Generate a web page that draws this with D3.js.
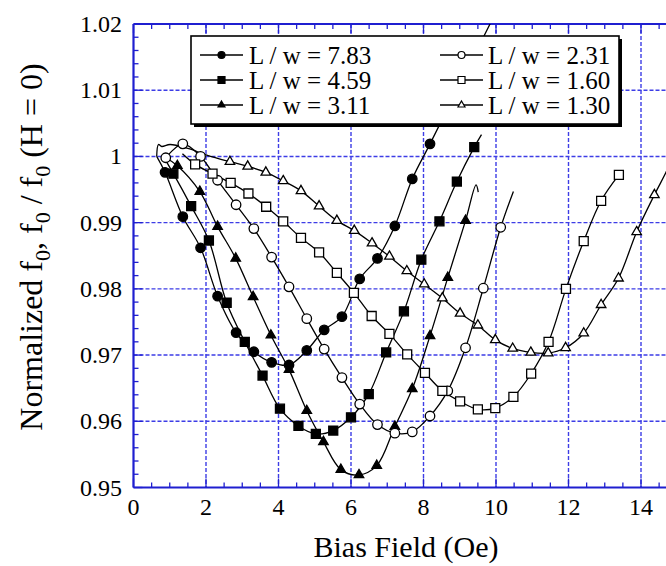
<!DOCTYPE html>
<html>
<head>
<meta charset="utf-8">
<script src="https://cdn.jsdelivr.net/npm/d3@7"></script>
<style>
  html, body { margin: 0; padding: 0; background: #fff; }
  svg { display: block; }
</style>
</head>
<body>
<svg id="chart" width="666" height="566"></svg>
<script>
// ---- Measured resonance shift vs. bias field, one series per aspect ratio L/w ----
const seriesNames = ["L / w = 7.83", "L / w = 4.59", "L / w = 3.11",
                     "L / w = 2.31", "L / w = 1.60", "L / w = 1.30"];

// marker points [bias field (Oe), normalized f0]
const lw783 = [[0.87,0.9976],[1.36,0.9909],[1.85,0.9862],[2.32,0.9789],[2.83,0.9734],[3.32,0.9705],
  [3.81,0.9689],[4.29,0.9685],[4.78,0.9707],[5.26,0.9738],[5.75,0.9758],[6.24,0.9815],[6.73,0.9846],
  [7.21,0.9895],[7.69,0.9966],[8.18,1.0019]];
const lw459 = [[1.10,0.9974],[1.59,0.9925],[2.08,0.9873],[2.57,0.9779],[3.07,0.9720],[3.56,0.9669],
  [4.04,0.9619],[4.55,0.9593],[5.03,0.9581],[5.51,0.9586],[6.00,0.9606],[6.49,0.9641],[6.97,0.9704],
  [7.46,0.9766],[7.94,0.9844],[8.44,0.9902],[8.92,0.9962],[9.40,1.0014]];
const lw311 = [[1.21,0.9986],[1.83,0.9947],[2.32,0.9894],[2.82,0.9846],[3.30,0.9788],[3.79,0.9730],
  [4.29,0.9678],[4.78,0.9616],[5.24,0.9569],[5.72,0.9527],[6.22,0.9519],[6.71,0.9533],[7.21,0.9592],
  [7.69,0.9649],[8.18,0.9729],[8.67,0.9817],[9.16,0.9903]];
const lw231 = [[0.89,0.9998],[1.36,1.0019],[1.85,1.0000],[2.32,0.9964],[2.83,0.9927],[3.32,0.9891],
  [3.81,0.9848],[4.29,0.9803],[4.78,0.9755],[5.26,0.9709],[5.75,0.9666],[6.24,0.9626],[6.73,0.9595],
  [7.21,0.9582],[7.69,0.9584],[8.18,0.9608],[8.67,0.9646],[9.16,0.9711],[9.65,0.9801],[10.13,0.9893]];
const lw160 = [[1.70,0.9988],[2.18,0.9974],[2.68,0.9960],[3.17,0.9944],[3.66,0.9924],[4.13,0.9902],
  [4.62,0.9877],[5.12,0.9855],[5.61,0.9824],[6.08,0.9794],[6.57,0.9759],[7.06,0.9732],[7.55,0.9701],
  [8.04,0.9673],[8.52,0.9646],[9.01,0.9630],[9.50,0.9618],[9.98,0.9620],[10.48,0.9637],[10.97,0.9672],
  [11.45,0.9720],[11.93,0.9800],[12.42,0.9872],[12.90,0.9933],[13.39,0.9972]];
const lw130 = [[2.66,0.9992],[3.15,0.9985],[3.65,0.9976],[4.13,0.9963],[4.62,0.9948],[5.12,0.9925],
  [5.61,0.9903],[6.09,0.9888],[6.58,0.9869],[7.06,0.9849],[7.54,0.9827],[8.02,0.9807],[8.52,0.9786],
  [9.01,0.9763],[9.50,0.9745],[9.98,0.9723],[10.46,0.9710],[10.96,0.9704],[11.44,0.9703],[11.92,0.9711],
  [12.42,0.9733],[12.90,0.9776],[13.38,0.9816],[13.88,0.9886],[14.37,0.9942]];

// trace points recorded beyond the marked points (start / end of each sweep)
const lw783Head = [[0.64,1.0000]];
const lw783Tail = [[9.88,1.0205]];
const lw459Head = [[0.90,0.9993]];
const lw459Tail = [[9.60,1.0033]];
const lw311Head = [[0.89,0.9998]];
const lw311Tail = [[9.45,0.9957],[9.51,0.9946]];
const lw231Head = [];
const lw231Tail = [[10.48,0.9947]];
const lw160Head = [[1.35,1.0004]];
const lw160Tail = [];
const lw130Head = [[0.64,1.0000],[0.69,1.0018],[0.78,1.0015],[1.01,1.0018],[1.50,1.0012],[2.02,1.0002]];
const lw130Tail = [[14.69,0.9976],[15.0,1.0012]];

const xTicks = [0, 2, 4, 6, 8, 10, 12, 14];
const yTicks = [0.95, 0.96, 0.97, 0.98, 0.99, 1.00, 1.01, 1.02];
const yTickLabels = ["0.95", "0.96", "0.97", "0.98", "0.99", "1", "1.01", "1.02"];

// ---- layout ----
const svg = d3.select("#chart");
const FONT = "'Liberation Serif','Times New Roman',Times,serif";
const pL = 133.5, pT = 24, pB = 487.5, pR = 677.25;
const x = d3.scaleLinear().domain([0, 15]).range([pL, pR]);
const y = d3.scaleLinear().domain([0.95, 1.02]).range([pB, pT]);
const AXIS = "#1f1fd0", GRID = "#3d3de6";

// grid
const g = svg.append("g");
g.selectAll(".gx").data(xTicks.filter(t => t > 0)).join("line")
  .attr("x1", d => x(d)).attr("x2", d => x(d)).attr("y1", pT).attr("y2", pB)
  .attr("stroke", GRID).attr("stroke-width", 1.4).attr("stroke-dasharray", "4,2");
g.selectAll(".gy").data(yTicks.filter(t => t > 0.95 && t < 1.02)).join("line")
  .attr("x1", pL).attr("x2", pR).attr("y1", d => y(d)).attr("y2", d => y(d))
  .attr("stroke", GRID).attr("stroke-width", 1.4).attr("stroke-dasharray", "4,2");

// axes: bottom/top/left frame with inward ticks
const xMinor = d3.range(0, 15.01, 0.5);
const yMinor = d3.range(0, 36).map(i => 0.95 + i * 0.002);
const axG = svg.append("g").attr("stroke", AXIS);
axG.selectAll(".tb").data(xMinor).join("line")
  .attr("x1", d => x(d)).attr("x2", d => x(d))
  .attr("y1", pB).attr("y2", d => pB - (Math.abs(d % 2) < 1e-6 ? 9 : 5))
  .attr("stroke-width", 1.3);
axG.selectAll(".tt").data(xMinor).join("line")
  .attr("x1", d => x(d)).attr("x2", d => x(d))
  .attr("y1", pT).attr("y2", d => pT + (Math.abs(d % 2) < 1e-6 ? 9 : 5))
  .attr("stroke-width", 1.3);
axG.selectAll(".tl").data(yMinor).join("line")
  .attr("y1", d => y(d)).attr("y2", d => y(d))
  .attr("x1", pL).attr("x2", (d, i) => pL + (i % 5 === 0 ? 9 : 5))
  .attr("stroke-width", 1.3);
axG.append("line").attr("x1", pL).attr("x2", pR).attr("y1", pB).attr("y2", pB).attr("stroke-width", 2.2);
axG.append("line").attr("x1", pL).attr("x2", pR).attr("y1", pT).attr("y2", pT).attr("stroke-width", 2.2);
axG.append("line").attr("x1", pL).attr("x2", pL).attr("y1", pT).attr("y2", pB).attr("stroke-width", 2.2);

// tick labels
svg.append("g").selectAll("text").data(xTicks).join("text")
  .attr("x", d => x(d)).attr("y", 515).attr("text-anchor", "middle")
  .attr("font-family", FONT).attr("font-size", 24).attr("fill", "#000")
  .text(d => d);
svg.append("g").selectAll("text").data(yTicks).join("text")
  .attr("x", 122).attr("y", d => y(d) + 8).attr("text-anchor", "end")
  .attr("font-family", FONT).attr("font-size", 24).attr("fill", "#000")
  .text((d, i) => yTickLabels[i]);

// axis titles
svg.append("text").attr("x", 406).attr("y", 557).attr("text-anchor", "middle")
  .attr("font-family", FONT).attr("font-size", 30).attr("fill", "#000")
  .text("Bias Field (Oe)");
const yt = svg.append("text").attr("transform", "translate(42,247) rotate(-90)")
  .attr("text-anchor", "middle").attr("font-family", FONT).attr("font-size", 32).attr("fill", "#000");
[["Normalized f", 0], ["0", 1], [", f", 0], ["0", 1], [" / f", 0], ["0", 1], [" (H = 0)", 0]]
  .forEach(([s, sub], i, arr) => {
    const prevSub = i > 0 ? arr[i - 1][1] : 0;
    yt.append("tspan").attr("dy", sub ? 8 : (prevSub ? -8 : 0))
      .attr("font-size", sub ? 22 : 32).text(s);
  });

// ---- markers ----
function markerPath(kind, s) {
  if (kind === "circle") return d3.symbol(d3.symbolCircle, Math.PI * (s / 2) * (s / 2))();
  if (kind === "square") { const h = s / 2; return `M${-h},${-h}H${h}V${h}H${-h}Z`; }
  const r = s / Math.sqrt(3);
  return `M0,${-r}L${s / 2},${r / 2}L${-s / 2},${r / 2}Z`;
}

const series = [
  { name: seriesNames[0], pts: lw783, head: lw783Head, tail: lw783Tail, kind: "circle", filled: true },
  { name: seriesNames[1], pts: lw459, head: lw459Head, tail: lw459Tail, kind: "square", filled: true },
  { name: seriesNames[2], pts: lw311, head: lw311Head, tail: lw311Tail, kind: "triangle", filled: true },
  { name: seriesNames[3], pts: lw231, head: lw231Head, tail: lw231Tail, kind: "circle", filled: false },
  { name: seriesNames[4], pts: lw160, head: lw160Head, tail: lw160Tail, kind: "square", filled: false },
  { name: seriesNames[5], pts: lw130, head: lw130Head, tail: lw130Tail, kind: "triangle", filled: false }
];
const markSize = { circle: 9.5, square: 9, triangle: 9.5 };

svg.append("defs").append("clipPath").attr("id", "plotClip")
  .append("rect").attr("x", pL).attr("y", pT).attr("width", pR - pL).attr("height", pB - pT);

const line = d3.line().x(d => x(d[0])).y(d => y(d[1])).curve(d3.curveCatmullRom.alpha(0.5));
const plot = svg.append("g").attr("clip-path", "url(#plotClip)");
series.forEach(s => {
  plot.append("path").datum(s.head.concat(s.pts, s.tail)).attr("d", line)
    .attr("fill", "none").attr("stroke", "#000").attr("stroke-width", 1.3);
});
series.forEach(s => {
  plot.append("g").selectAll("path").data(s.pts).join("path")
    .attr("transform", d => `translate(${x(d[0])},${y(d[1])})`)
    .attr("d", markerPath(s.kind, markSize[s.kind]))
    .attr("fill", s.filled ? "#000" : "#fff").attr("stroke", "#000").attr("stroke-width", 1.3);
});

// ---- legend ----
const lg = svg.append("g");
lg.append("rect").attr("x", 194).attr("y", 39).attr("width", 428).attr("height", 88).attr("fill", "#000");
lg.append("rect").attr("x", 191).attr("y", 36).attr("width", 428).attr("height", 88)
  .attr("fill", "#fff").attr("stroke", "#000").attr("stroke-width", 1.6);
const cols = [{ x0: 200, x1: 243, tx: 249 }, { x0: 440, x1: 483, tx: 488 }];
const rows = [55, 80, 105];
series.forEach((s, i) => {
  const c = cols[Math.floor(i / 3)], ry = rows[i % 3];
  lg.append("line").attr("x1", c.x0).attr("x2", c.x1).attr("y1", ry).attr("y2", ry)
    .attr("stroke", "#000").attr("stroke-width", 1.3);
  lg.append("path").attr("transform", `translate(${(c.x0 + c.x1) / 2},${ry})`)
    .attr("d", markerPath(s.kind, 7))
    .attr("fill", s.filled ? "#000" : "#fff").attr("stroke", "#000").attr("stroke-width", 1.2);
  lg.append("text").attr("x", c.tx).attr("y", ry + 8.5)
    .attr("font-family", FONT).attr("font-size", 25).attr("fill", "#000").text(s.name);
});
</script>
</body>
</html>
